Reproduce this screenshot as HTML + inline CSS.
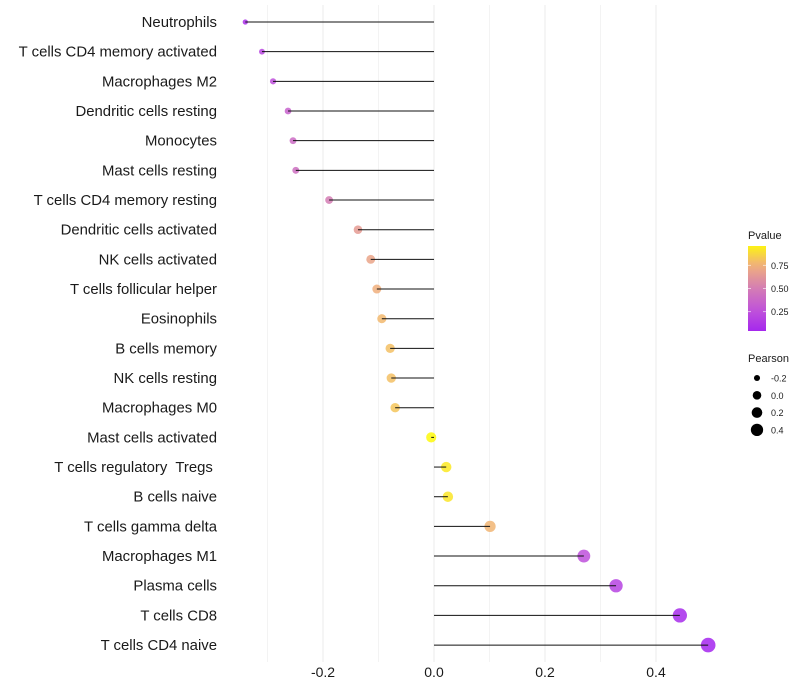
<!DOCTYPE html>
<html><head><meta charset="utf-8"><style>
body{margin:0;background:#fff;font-family:"Liberation Sans",sans-serif}
svg{display:block}
text{white-space:pre}
</style></head><body>
<svg id="c" width="800" height="700"></svg>
<script>
const categories=["Neutrophils","T cells CD4 memory activated","Macrophages M2","Dendritic cells resting","Monocytes","Mast cells resting","T cells CD4 memory resting","Dendritic cells activated","NK cells activated","T cells follicular helper","Eosinophils","B cells memory","NK cells resting","Macrophages M0","Mast cells activated","T cells regulatory  Tregs ","B cells naive","T cells gamma delta","Macrophages M1","Plasma cells","T cells CD8","T cells CD4 naive"];
const pearson=[-0.34,-0.31,-0.29,-0.263,-0.254,-0.249,-0.189,-0.137,-0.114,-0.103,-0.094,-0.079,-0.077,-0.070,-0.005,0.022,0.025,0.101,0.27,0.328,0.443,0.494];
const pvalue=[0.08,0.2,0.25,0.35,0.4,0.42,0.5,0.65,0.7,0.75,0.78,0.8,0.8,0.82,0.98,0.93,0.92,0.77,0.25,0.18,0.06,0.03];
const xTicks=[-0.2,0,0.2,0.4];
const xMinor=[-0.3,-0.1,0.1,0.3];
const pTicks=[0.25,0.5,0.75];
const sizeTicks=[-0.2,0,0.2,0.4];
const NS="http://www.w3.org/2000/svg";
const svg=document.getElementById('c');
const X=v=>434+v*555;
const Y=i=>22+i*29.67;
const R=v=>Math.sqrt(Math.max(2.25,26+56*v));
function col(p){
  const stops=[[0,[160,32,240]],[0.25,[190,80,220]],[0.5,[212,125,180]],[0.75,[240,175,125]],[1,[255,255,0]]];
  for(let i=1;i<stops.length;i++){if(p<=stops[i][0]){const a=stops[i-1],b=stops[i];const t=(p-a[0])/(b[0]-a[0]);return 'rgb('+a[1].map((c,k)=>Math.round(c+(b[1][k]-c)*t)).join(',')+')';}}
  return 'rgb(255,255,0)';
}
function el(t,a,txt){const e=document.createElementNS(NS,t);for(const k in a)e.setAttribute(k,a[k]);if(txt!==undefined)e.textContent=txt;svg.appendChild(e);return e;}
xMinor.forEach(v=>{const e=el('line',{x1:X(v),x2:X(v),y1:5,y2:662,stroke:'#f3f3f3','stroke-width':1});

});
xTicks.forEach(v=>{const e=el('line',{x1:X(v),x2:X(v),y1:5,y2:662,stroke:'#ebebeb','stroke-width':1});


const t=el('text',{x:X(v),y:677,'text-anchor':'middle','font-size':14,fill:'#1a1a1a'},v===0?'0.0':v.toFixed(1));

});
categories.forEach((c,i)=>{
  const t=el('text',{x:217,y:Y(i)+5,'text-anchor':'end','font-size':14.9,fill:'#1a1a1a'},c);
  
  
  const p=el('circle',{cx:X(pearson[i]),cy:Y(i),r:R(pearson[i]),fill:col(pvalue[i]),'fill-opacity':0.85});
  
  
  const l=el('line',{x1:X(0),x2:X(pearson[i]),y1:Y(i),y2:Y(i),stroke:'#111','stroke-width':1});
  
  
});
el('text',{x:748,y:239,'font-size':11,fill:'#1a1a1a'},'Pvalue');
const defs=el('defs',{});
const g=document.createElementNS(NS,'linearGradient');g.setAttribute('id','pg');g.setAttribute('x1','0');g.setAttribute('y1','1');g.setAttribute('x2','0');g.setAttribute('y2','0');defs.appendChild(g);
for(let k=0;k<=10;k++){const s=document.createElementNS(NS,'stop');const p=0.04+k*0.092;s.setAttribute('offset',k/10);s.setAttribute('stop-color',col(p));g.appendChild(s);}
const bar=el('rect',{x:748,y:246,width:18,height:85,fill:'url(#pg)'});


const PY=p=>331-(p-0.04)/0.92*85;
pTicks.forEach(p=>{el('line',{x1:748,x2:751,y1:PY(p),y2:PY(p),stroke:'#fff','stroke-opacity':0.6});el('line',{x1:763,x2:766,y1:PY(p),y2:PY(p),stroke:'#fff','stroke-opacity':0.6});
const t=el('text',{x:771,y:PY(p)+3.5,'font-size':9,fill:'#1a1a1a'},p.toFixed(2));

});
el('text',{x:748,y:362,'font-size':11,fill:'#1a1a1a'},'Pearson');
sizeTicks.forEach((v,k)=>{const y=378+k*17.3;
const c=el('circle',{cx:757,cy:y,r:R(v)-0.8,fill:'#000'});


const t=el('text',{x:771,y:y+3.5,'font-size':9,fill:'#1a1a1a'},v===0?'0.0':String(v));

});
</script>
</body></html>
